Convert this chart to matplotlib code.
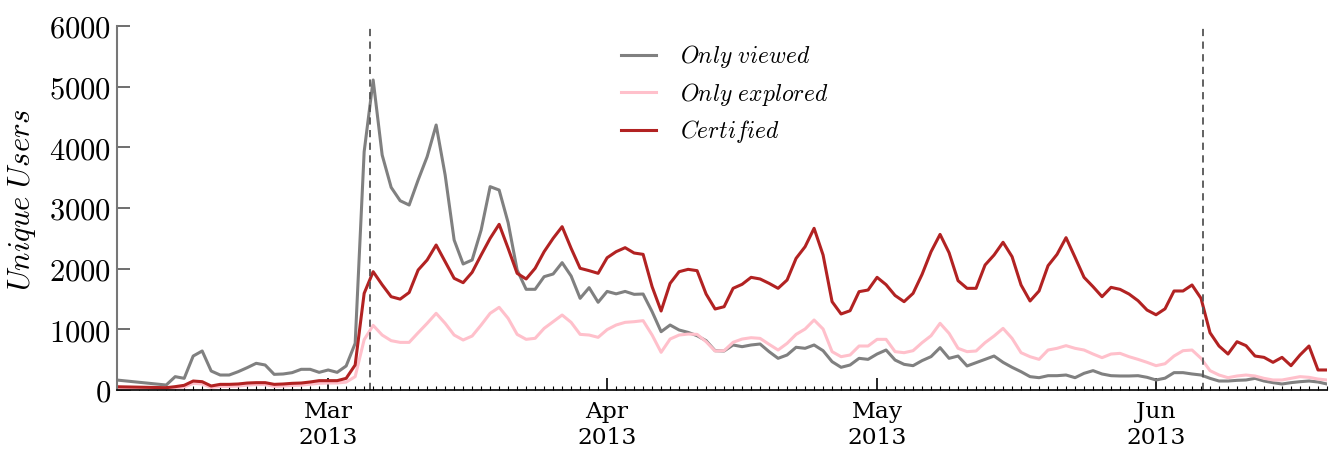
import datetime as dt

import matplotlib
matplotlib.use('Agg')
import matplotlib.pyplot as plt
import matplotlib.dates as mdates
import pandas as pd

plt.rcParams['mathtext.fontset'] = 'cm'
plt.rcParams['font.family'] = 'DejaVu Serif'

# first sample, then a daily series from Feb 11 to Jun 20
dates = [dt.datetime(2013, 2, 5)] + list(pd.date_range('2013-02-11', '2013-06-20', freq='D').to_pydatetime())

only_viewed = [
    172,
    # Feb 11 - Feb 28
    82, 220, 192, 560, 643, 313, 247, 247, 302, 368, 440, 412, 258, 264, 286, 341, 341, 291,
    # Mar
    330, 291, 396, 769, 3928, 5110, 3874, 3340, 3120, 3049, 3462, 3846, 4368, 3544, 2472, 2077,
    2143, 2637, 3352, 3296, 2758, 1978, 1660, 1660, 1868, 1912, 2099, 1879, 1511, 1687, 1446,
    # Apr
    1625, 1585, 1625, 1577, 1582, 1291, 961, 1071, 989, 950, 895, 813, 648, 643, 742,
    714, 742, 758, 632, 522, 577, 704, 687, 742, 648, 467, 374, 412, 522, 505,
    # May
    593, 659, 494, 423, 401, 484, 550, 698, 522, 560, 396, 450, 505, 560, 456, 374,
    302, 220, 203, 236, 236, 247, 203, 275, 319, 264, 236, 231, 231, 236, 209,
    # Jun
    165, 195, 286, 286, 264, 247, 192, 148, 148, 159, 165, 192, 148, 121, 99, 121, 137, 148, 132, 99,
]

only_explored = [
    30,
    20, 30, 50, 110, 100, 40, 60, 60, 65, 80, 90, 90, 60, 65, 75, 80, 95, 110,
    115, 115, 130, 220, 830, 1065, 906, 813, 785, 785, 944, 1099, 1264, 1099, 906, 824,
    890, 1071, 1264, 1363, 1181, 917, 835, 852, 1016, 1126, 1236, 1115, 917, 906, 868,
    995, 1071, 1115, 1126, 1143, 906, 621, 840, 906, 922, 917, 796, 643, 648, 786,
    840, 862, 851, 753, 659, 769, 917, 1005, 1154, 1005, 632, 549, 577, 725, 725,
    835, 835, 632, 615, 648, 780, 895, 1099, 934, 687, 632, 643, 780, 890, 1016, 851,
    615, 549, 505, 659, 687, 731, 687, 659, 593, 533, 593, 604, 549, 505, 456,
    401, 433, 560, 648, 659, 522, 319, 247, 203, 231, 247, 231, 192, 165, 165, 192, 220, 209, 181, 165,
]

certified = [
    55,
    38, 55, 77, 148, 137, 66, 93, 93, 99, 115, 121, 121, 93, 99, 110, 115, 132, 154,
    154, 154, 192, 412, 1593, 1950, 1735, 1538, 1498, 1607, 1978, 2143, 2390, 2115, 1841, 1769,
    1940, 2225, 2500, 2731, 2335, 1923, 1830, 2006, 2280, 2500, 2692, 2335, 2006, 1967, 1923,
    2180, 2280, 2346, 2258, 2236, 1703, 1302, 1758, 1950, 1989, 1967, 1582, 1335, 1373, 1676,
    1742, 1857, 1830, 1758, 1676, 1813, 2170, 2362, 2665, 2225, 1456, 1253, 1307, 1621, 1648,
    1857, 1736, 1558, 1456, 1593, 1906, 2280, 2565, 2263, 1802, 1676, 1676, 2060, 2225, 2435, 2198,
    1731, 1467, 1632, 2049, 2236, 2511, 2187, 1857, 1703, 1538, 1692, 1659, 1582, 1472, 1318,
    1240, 1338, 1632, 1632, 1731, 1511, 944, 725, 593, 796, 731, 560, 538, 456, 538, 401, 577, 725, 330, 330,
]

# course launch / end markers
events = [dt.datetime(2013, 3, 5, 16), dt.datetime(2013, 6, 6, 4)]

fig = plt.figure(figsize=(13.35, 4.5), dpi=100)
ax = fig.add_axes([116.7 / 1335, 1 - 390 / 450, (1327 - 116.7) / 1335, (390 - 26) / 450])

ax.plot(dates, only_viewed, color='gray', lw=2.2, label=r'$Only\ viewed$')
ax.plot(dates, only_explored, color='pink', lw=2.2, label=r'$Only\ explored$')
ax.plot(dates, certified, color='firebrick', lw=2.2, label=r'$Certified$')

for d in events:
    ax.axvline(d, color='#555555', ls='--', lw=1.3, dashes=(4, 3))

ax.set_xlim(dt.datetime(2013, 2, 5, 12), dt.datetime(2013, 6, 20))
ax.set_ylim(0, 6000)

ax.xaxis.set_major_locator(mdates.MonthLocator())
ax.xaxis.set_major_formatter(mdates.DateFormatter('%b\n%Y'))
ax.xaxis.set_minor_locator(mdates.DayLocator())
ax.set_yticks(range(0, 6001, 1000))
ax.set_yticklabels([r'$%d$' % v for v in range(0, 6001, 1000)])

ax.spines['top'].set_visible(False)
ax.spines['right'].set_visible(False)
ax.spines['left'].set_color('#777777')
ax.spines['left'].set_linewidth(1.5)
ax.spines['bottom'].set_linewidth(1.2)

ax.tick_params(axis='y', direction='in', length=9, width=1.2, color='#555555', labelsize=22, pad=4)
ax.tick_params(axis='x', which='major', direction='in', length=9, width=1.2, labelsize=16.8, pad=8)
ax.tick_params(axis='x', which='minor', direction='in', length=3, width=0.8)

ax.set_ylabel(r'$Unique\ Users$', fontsize=22)
ax.yaxis.set_label_coords(-0.065, 0.522)

ax.legend(loc='upper left', bbox_to_anchor=(0.399, 1.012), frameon=False, fontsize=17,
          handlelength=1.5, handletextpad=1.0, labelspacing=0.45)

fig.savefig('out.png', dpi=100)
